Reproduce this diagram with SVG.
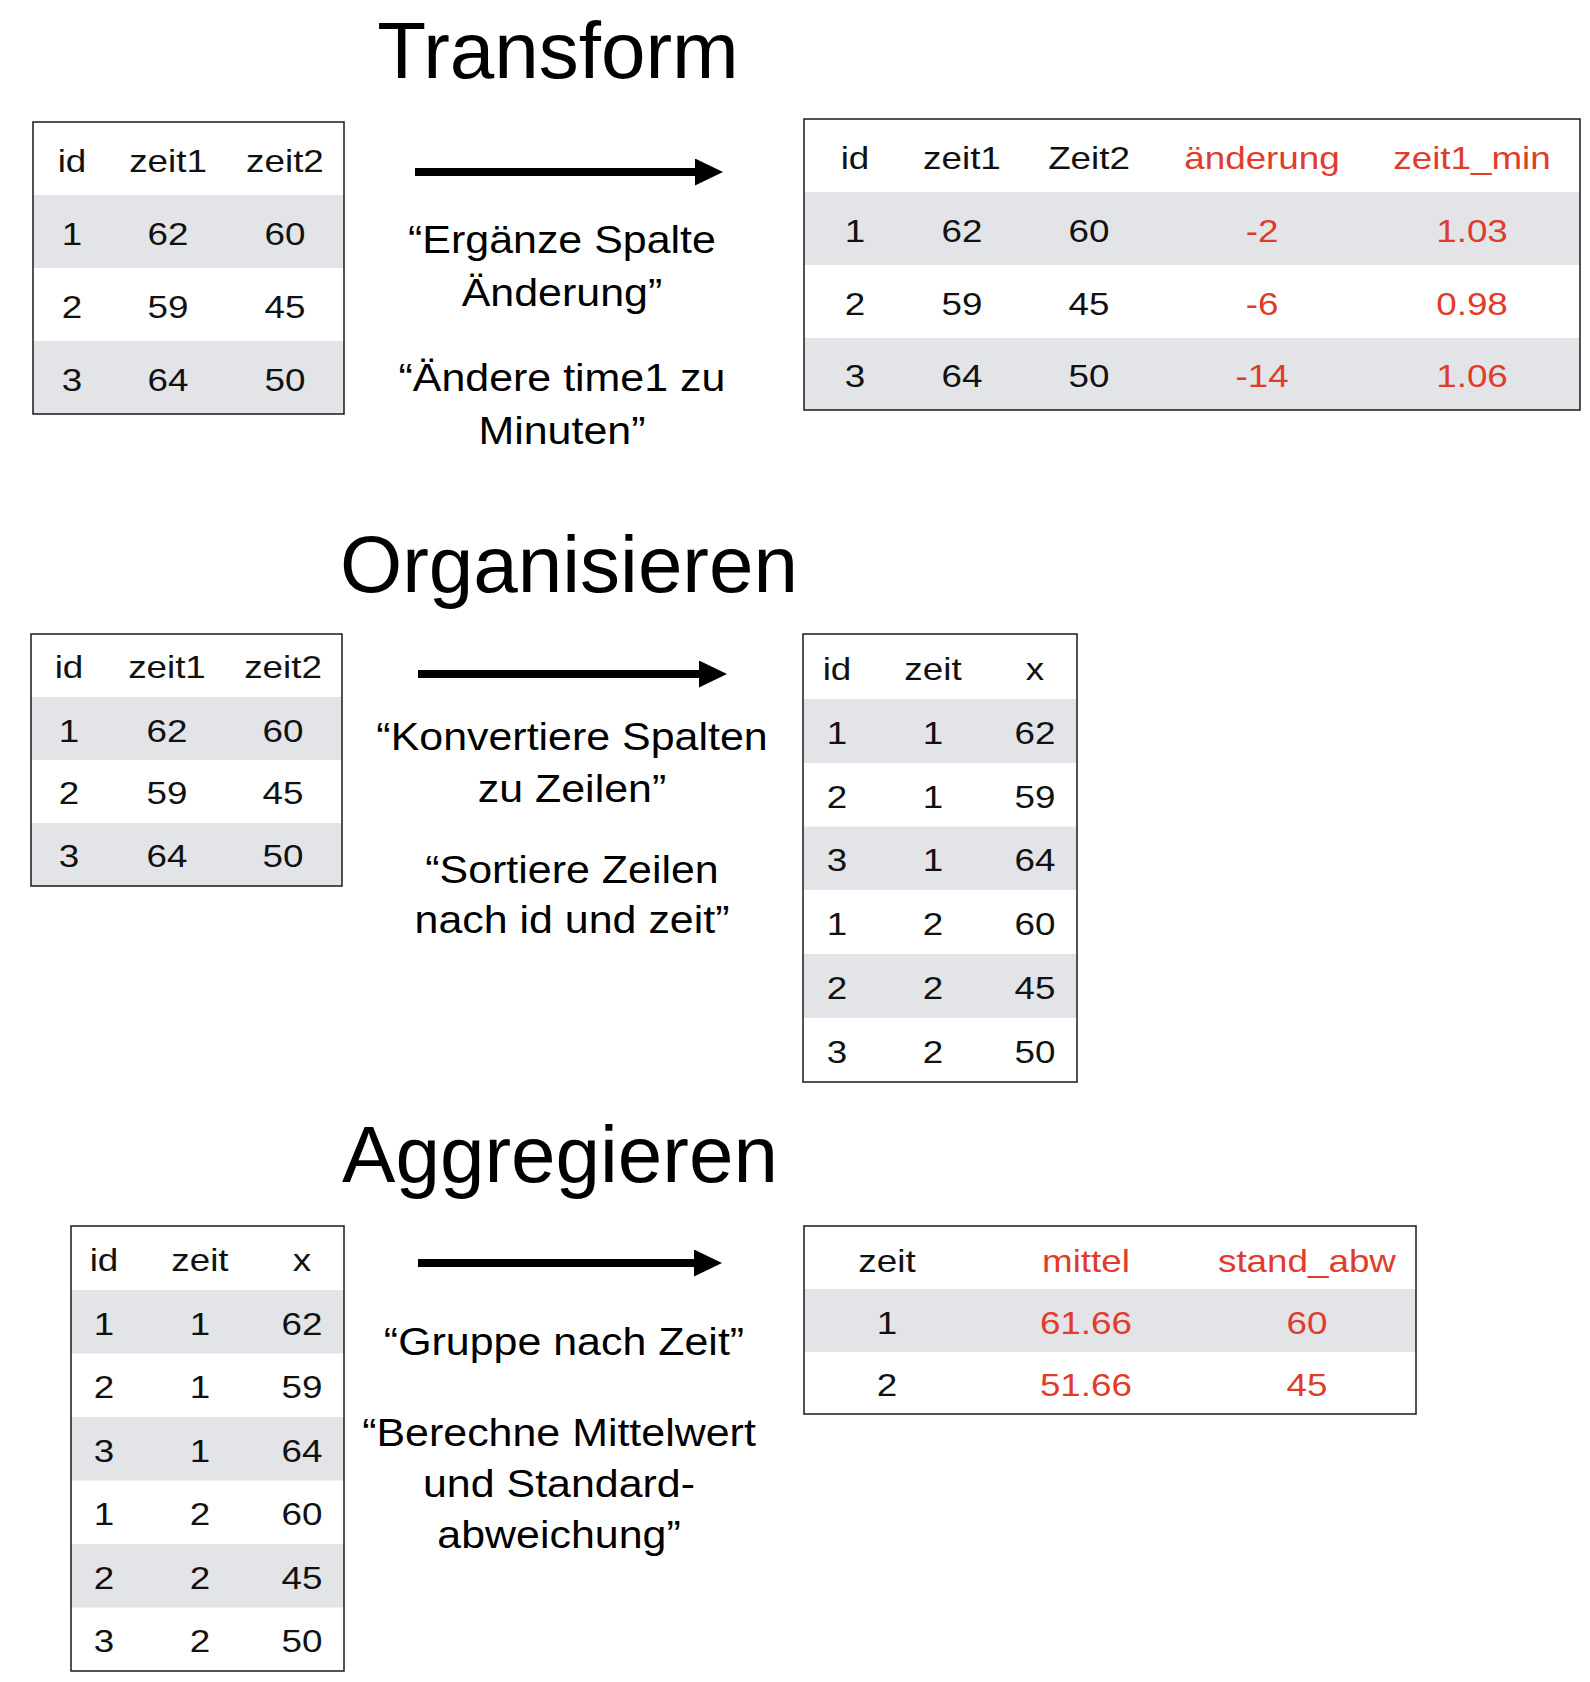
<svg xmlns="http://www.w3.org/2000/svg" width="1590" height="1682" viewBox="0 0 1590 1682">
  <style>
    text { font-family: "Liberation Sans", Arial, Helvetica, sans-serif; fill: #111; }
    .title { font-size: 80px; text-anchor: middle; fill: #000; }
    .cell { font-size: 32px; text-anchor: middle; }
    .new { fill: #df3c2c; }
    .note { font-size: 38px; text-anchor: middle; fill: #000; }
    .frame { fill: none; stroke: #1a1a1a; stroke-width: 1.5; }
    .band { fill: #e3e4e7; }
    .arrow { stroke: #000; stroke-width: 8; fill: none; marker-end: url(#head); }
  </style>
  <defs>
    <marker id="head" markerUnits="userSpaceOnUse" markerWidth="28" markerHeight="27" viewBox="0 0 28 27" refX="1" refY="13.5" orient="auto">
      <path d="M0,0 L28,13.5 L0,27 Z" fill="#000"/>
    </marker>
  </defs>
  <rect width="1590" height="1682" fill="#fff"/>

  <!-- section headings -->
  <g id="headings">
    <text class="title" x="558" y="78">Transform</text>
    <text class="title" x="569" y="592">Organisieren</text>
    <text class="title" x="560" y="1182">Aggregieren</text>
  </g>

  <!-- step arrows -->
  <g id="connectors">
    <line class="arrow" x1="415" y1="172" x2="696" y2="172"/>
    <line class="arrow" x1="418" y1="674" x2="700" y2="674"/>
    <line class="arrow" x1="418" y1="1263" x2="695" y2="1263"/>
  </g>

  <!-- Transform: input table -->
  <g id="transform-input">
    <rect class="band" x="33" y="195" width="311" height="73"/>
    <rect class="band" x="33" y="341" width="311" height="73"/>
    <rect class="frame" x="33" y="122" width="311" height="292"/>
    <!-- cell text is set 1.15x wide; x values are column centres / 1.15 -->
    <g transform="scale(1.15 1)">
      <text class="cell" x="62.6" y="172">id</text>
      <text class="cell" x="146.1" y="172">zeit1</text>
      <text class="cell" x="247.8" y="172">zeit2</text>
      <text class="cell" x="62.6" y="245">1</text>
      <text class="cell" x="146.1" y="245">62</text>
      <text class="cell" x="247.8" y="245">60</text>
      <text class="cell" x="62.6" y="318">2</text>
      <text class="cell" x="146.1" y="318">59</text>
      <text class="cell" x="247.8" y="318">45</text>
      <text class="cell" x="62.6" y="391">3</text>
      <text class="cell" x="146.1" y="391">64</text>
      <text class="cell" x="247.8" y="391">50</text>
    </g>
  </g>

  <!-- Transform: instructions (set 1.13x wide) -->
  <g id="transform-note" transform="scale(1.13 1)">
    <text class="note" x="497.3" y="253">“Ergänze Spalte</text>
    <text class="note" x="497.3" y="306">Änderung”</text>
    <text class="note" x="497.3" y="391">“Ändere time1 zu</text>
    <text class="note" x="497.3" y="444">Minuten”</text>
  </g>

  <!-- Transform: result table -->
  <g id="transform-output">
    <rect class="band" x="804" y="192" width="776" height="73"/>
    <rect class="band" x="804" y="338" width="776" height="72"/>
    <rect class="frame" x="804" y="119" width="776" height="291"/>
    <g transform="scale(1.15 1)">
      <text class="cell" x="743.5" y="169">id</text>
      <text class="cell" x="836.5" y="169">zeit1</text>
      <text class="cell" x="947" y="169">Zeit2</text>
      <text class="cell new" x="1097.4" y="169">änderung</text>
      <text class="cell new" x="1280" y="169">zeit1_min</text>
      <text class="cell" x="743.5" y="242">1</text>
      <text class="cell" x="836.5" y="242">62</text>
      <text class="cell" x="947" y="242">60</text>
      <text class="cell new" x="1097.4" y="242">-2</text>
      <text class="cell new" x="1280" y="242">1.03</text>
      <text class="cell" x="743.5" y="315">2</text>
      <text class="cell" x="836.5" y="315">59</text>
      <text class="cell" x="947" y="315">45</text>
      <text class="cell new" x="1097.4" y="315">-6</text>
      <text class="cell new" x="1280" y="315">0.98</text>
      <text class="cell" x="743.5" y="387">3</text>
      <text class="cell" x="836.5" y="387">64</text>
      <text class="cell" x="947" y="387">50</text>
      <text class="cell new" x="1097.4" y="387">-14</text>
      <text class="cell new" x="1280" y="387">1.06</text>
    </g>
  </g>

  <!-- Organisieren: input table -->
  <g id="organise-input">
    <rect class="band" x="31" y="697" width="311" height="63"/>
    <rect class="band" x="31" y="823" width="311" height="63"/>
    <rect class="frame" x="31" y="634" width="311" height="252"/>
    <g transform="scale(1.15 1)">
      <text class="cell" x="60" y="678">id</text>
      <text class="cell" x="145.2" y="678">zeit1</text>
      <text class="cell" x="246.1" y="678">zeit2</text>
      <text class="cell" x="60" y="742">1</text>
      <text class="cell" x="145.2" y="742">62</text>
      <text class="cell" x="246.1" y="742">60</text>
      <text class="cell" x="60" y="804">2</text>
      <text class="cell" x="145.2" y="804">59</text>
      <text class="cell" x="246.1" y="804">45</text>
      <text class="cell" x="60" y="867">3</text>
      <text class="cell" x="145.2" y="867">64</text>
      <text class="cell" x="246.1" y="867">50</text>
    </g>
  </g>

  <!-- Organisieren: instructions -->
  <g id="organise-note" transform="scale(1.13 1)">
    <text class="note" x="506.2" y="750">“Konvertiere Spalten</text>
    <text class="note" x="506.2" y="802">zu Zeilen”</text>
    <text class="note" x="506.2" y="883">“Sortiere Zeilen</text>
    <text class="note" x="506.2" y="933">nach id und zeit”</text>
  </g>

  <!-- Organisieren: long-format table -->
  <g id="organise-output">
    <rect class="band" x="803" y="699" width="274" height="64"/>
    <rect class="band" x="803" y="826.5" width="274" height="63.5"/>
    <rect class="band" x="803" y="954" width="274" height="64"/>
    <rect class="frame" x="803" y="634" width="274" height="448"/>
    <g transform="scale(1.15 1)">
      <text class="cell" x="727.8" y="680">id</text>
      <text class="cell" x="811.3" y="680">zeit</text>
      <text class="cell" x="900" y="680">x</text>
      <text class="cell" x="727.8" y="744">1</text>
      <text class="cell" x="811.3" y="744">1</text>
      <text class="cell" x="900" y="744">62</text>
      <text class="cell" x="727.8" y="808">2</text>
      <text class="cell" x="811.3" y="808">1</text>
      <text class="cell" x="900" y="808">59</text>
      <text class="cell" x="727.8" y="871">3</text>
      <text class="cell" x="811.3" y="871">1</text>
      <text class="cell" x="900" y="871">64</text>
      <text class="cell" x="727.8" y="935">1</text>
      <text class="cell" x="811.3" y="935">2</text>
      <text class="cell" x="900" y="935">60</text>
      <text class="cell" x="727.8" y="999">2</text>
      <text class="cell" x="811.3" y="999">2</text>
      <text class="cell" x="900" y="999">45</text>
      <text class="cell" x="727.8" y="1063">3</text>
      <text class="cell" x="811.3" y="1063">2</text>
      <text class="cell" x="900" y="1063">50</text>
    </g>
  </g>

  <!-- Aggregieren: input table -->
  <g id="aggregate-input">
    <rect class="band" x="71" y="1290" width="273" height="63.5"/>
    <rect class="band" x="71" y="1417" width="273" height="63.5"/>
    <rect class="band" x="71" y="1544" width="273" height="63.5"/>
    <rect class="frame" x="71" y="1226" width="273" height="445"/>
    <g transform="scale(1.15 1)">
      <text class="cell" x="90.4" y="1271">id</text>
      <text class="cell" x="173.9" y="1271">zeit</text>
      <text class="cell" x="262.6" y="1271">x</text>
      <text class="cell" x="90.4" y="1335">1</text>
      <text class="cell" x="173.9" y="1335">1</text>
      <text class="cell" x="262.6" y="1335">62</text>
      <text class="cell" x="90.4" y="1398">2</text>
      <text class="cell" x="173.9" y="1398">1</text>
      <text class="cell" x="262.6" y="1398">59</text>
      <text class="cell" x="90.4" y="1462">3</text>
      <text class="cell" x="173.9" y="1462">1</text>
      <text class="cell" x="262.6" y="1462">64</text>
      <text class="cell" x="90.4" y="1525">1</text>
      <text class="cell" x="173.9" y="1525">2</text>
      <text class="cell" x="262.6" y="1525">60</text>
      <text class="cell" x="90.4" y="1589">2</text>
      <text class="cell" x="173.9" y="1589">2</text>
      <text class="cell" x="262.6" y="1589">45</text>
      <text class="cell" x="90.4" y="1652">3</text>
      <text class="cell" x="173.9" y="1652">2</text>
      <text class="cell" x="262.6" y="1652">50</text>
    </g>
  </g>

  <!-- Aggregieren: instructions -->
  <g id="aggregate-note" transform="scale(1.13 1)">
    <text class="note" x="499.1" y="1355">“Gruppe nach Zeit”</text>
    <text class="note" x="494.7" y="1446">“Berechne Mittelwert</text>
    <text class="note" x="494.7" y="1497">und Standard-</text>
    <text class="note" x="494.7" y="1548">abweichung”</text>
  </g>

  <!-- Aggregieren: summary table -->
  <g id="aggregate-output">
    <rect class="band" x="804" y="1289" width="612" height="63"/>
    <rect class="frame" x="804" y="1226" width="612" height="188"/>
    <g transform="scale(1.15 1)">
      <text class="cell" x="771.3" y="1272">zeit</text>
      <text class="cell new" x="944.3" y="1272">mittel</text>
      <text class="cell new" x="1136.5" y="1272">stand_abw</text>
      <text class="cell" x="771.3" y="1334">1</text>
      <text class="cell new" x="944.3" y="1334">61.66</text>
      <text class="cell new" x="1136.5" y="1334">60</text>
      <text class="cell" x="771.3" y="1396">2</text>
      <text class="cell new" x="944.3" y="1396">51.66</text>
      <text class="cell new" x="1136.5" y="1396">45</text>
    </g>
  </g>
</svg>
